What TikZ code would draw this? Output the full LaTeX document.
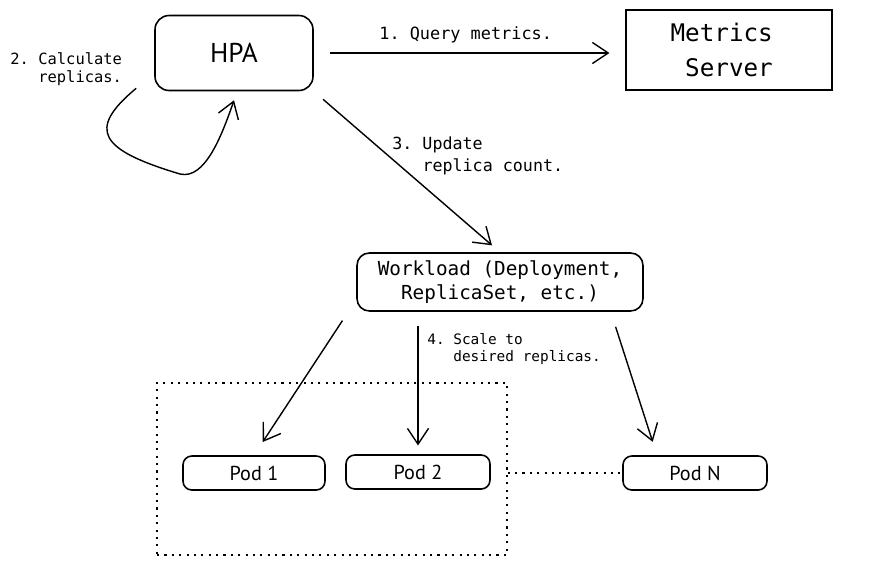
\documentclass[tikz,border=0pt]{standalone}
\usepackage{fontspec}
\setsansfont{PT Sans}
\setmonofont{DejaVu Sans Mono}
\usetikzlibrary{arrows.meta}

\begin{document}
\begin{tikzpicture}[x=0.02cm, y=-0.02cm,
  box/.style={draw, line width=0.9pt, rounded corners=8pt, inner sep=0pt},
  pod/.style={box, rounded corners=5pt, minimum height=0.68cm, font=\sffamily\fontsize{11.5}{14}\selectfont},
  lbl/.style={font=\ttfamily\fontsize{9.5}{11.5}\selectfont, align=left, inner sep=0pt, anchor=west},
  arr/.style={line width=0.8pt, -{Straight Barb[length=9pt,width=12pt]}}]
\useasboundingbox (0,0) rectangle (893,566);

\node[box, minimum width=3.16cm, minimum height=1.5cm, font=\sffamily\fontsize{15.5}{18}\selectfont] (hpa) at (234,53) {HPA};
\node[box, rounded corners=0pt, minimum width=4.12cm, minimum height=1.6cm, align=left,
  font=\ttfamily\fontsize{13.8}{19.8}\selectfont] (ms) at (729,50) {Metrics\hphantom{M}\\\hphantom{M}Server};
\node[box, rounded corners=7pt, minimum width=5.72cm, minimum height=1.16cm, align=center,
  font=\ttfamily\fontsize{11}{13.6}\selectfont] (wl) at (500,282) {Workload (Deployment,\\ReplicaSet, etc.)};

\node[draw, dash pattern=on 1.2pt off 3pt, line width=0.8pt, minimum width=7cm, minimum height=3.44cm] (grp) at (332,469) {};
\node[pod, minimum width=2.84cm] (pod1) at (254,473) {Pod 1};
\node[pod, minimum width=2.88cm] (pod2) at (418,472) {Pod 2};
\node[pod, minimum width=2.88cm] (podN) at (695,473) {Pod N};

\node[lbl, font=\ttfamily\fontsize{9.6}{11.5}\selectfont] (l1) at (379,35) {1. Query metrics.};
\node[lbl, font=\ttfamily\fontsize{8.8}{10.3}\selectfont] (l2) at (10,69) {2. Calculate\\\hphantom{2. }replicas.};
\node[lbl, font=\ttfamily\fontsize{9.5}{12.4}\selectfont] (l3) at (392,156) {3. Update\\\hphantom{3. }replica count.};
\node[lbl, font=\ttfamily\fontsize{8.2}{10.2}\selectfont] (l4) at (427,349) {4. Scale to\\\hphantom{4. }desired replicas.};

\draw[arr, shorten <=9pt, shorten >=9pt] (hpa.east) -- (hpa.east -| ms.west);
\draw[arr] ([shift={(-18,-3)}]hpa.south west) .. controls (86,130) and (100,150) .. (180,174)
  .. controls (205,180) and (222,135) .. ([shift={(0,9)}]hpa.south);
\draw[arr, shorten <=7pt, shorten >=6pt] (hpa.south east) -- (wl.north);
\draw[arr, shorten <=6pt, shorten >=9pt] ([shift={(-8,0)}]wl.south west) -- (pod1.north);
\draw[arr, shorten <=8pt, shorten >=5pt] (pod2.north |- wl.south) -- (pod2.north);
\draw[arr, shorten <=9pt, shorten >=8pt] ([shift={(-33,0)}]wl.south east) -- ([shift={(-38,0)}]podN.north);
\draw[dash pattern=on 1.2pt off 3pt, line width=0.8pt] (podN.west -| grp.east) -- (podN.west);
\end{tikzpicture}
\end{document}
